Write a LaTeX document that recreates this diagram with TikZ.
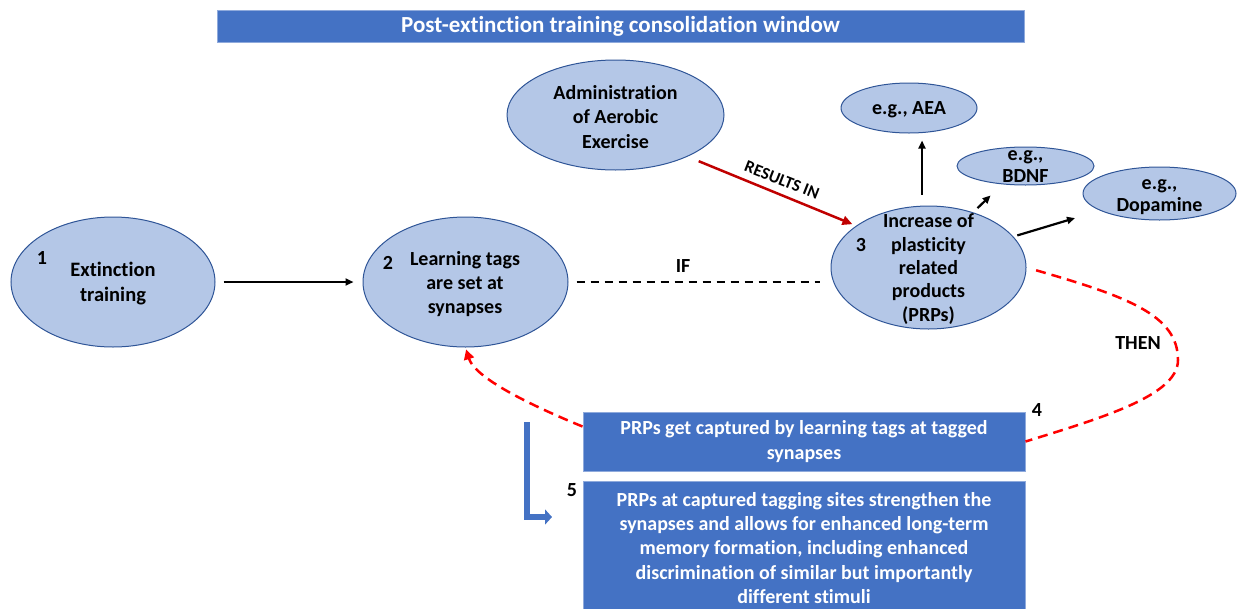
\documentclass[tikz,border=0pt]{standalone}
\usepackage{fontspec}
\setmainfont{Carlito}[Ligatures=NoCommon]
\usetikzlibrary{shapes.geometric,arrows.meta,calc}
\definecolor{ellfill}{HTML}{B4C7E7}
\definecolor{elldraw}{HTML}{2F5597}
\definecolor{boxfill}{HTML}{4472C4}
\definecolor{boxdraw}{HTML}{8FAADC}
\definecolor{dred}{HTML}{C00000}
\definecolor{bred}{HTML}{FF0000}
\tikzset{
  ell/.style={ellipse, draw=elldraw, fill=ellfill, line width=1pt, inner sep=0pt},
  etext/.style={align=center, font=\fontsize{20}{24}\selectfont\bfseries, inner sep=0pt},
  num/.style={font=\fontsize{20}{24}\selectfont\bfseries, inner sep=0pt},
  bluebox/.style={rectangle, draw=boxdraw, fill=boxfill, line width=1pt, text=white, align=center, font=\fontsize{20}{24.3}\selectfont\bfseries, inner sep=0pt},
  blkarrow/.style={line width=2.2pt, -{Triangle[length=8pt,width=7pt]}},
  reddash/.style={bred, line width=2.5pt, dash pattern=on 10pt off 6pt},
}
\begin{document}
\begin{tikzpicture}[x=1pt,y=-1pt]
\clip (0,0) rectangle (1242,608);
\useasboundingbox (0,0) rectangle (1242,608);

% title
\node[bluebox, minimum width=807pt, minimum height=32pt, font=\fontsize{23}{26}\selectfont\bfseries] (title) at (620.5,26) {Post-extinction training consolidation window};

% ellipses
\node[ell, minimum width=204pt, minimum height=130pt] (e1) at (113,282) {};
\node[etext, font=\fontsize{20.5}{25}\selectfont\bfseries] (t1) at (113,284) {Extinction\\training};
\node[num] (n1) at (42,258) {1};

\node[ell, minimum width=205pt, minimum height=130pt] (e2) at (465.5,282) {};
\node[etext] (t2) at (465,284) {Learning tags\\are set at\\synapses};
\node[num] (n2) at (388,263) {2};

\node[ell, minimum width=217pt, minimum height=110pt] (ea) at (615.5,115) {};
\node[etext, font=\fontsize{20}{24.5}\selectfont\bfseries] (ta) at (615.5,117) {Administration\\of Aerobic\\Exercise};

\node[ell, minimum width=195pt, minimum height=123pt] (e3) at (928.5,267.5) {};
\node[etext, font=\fontsize{20}{23.3}\selectfont\bfseries] (t3) at (928.5,269) {Increase of\\plasticity\\related\\products\\(PRPs)};
\node[num] (n3) at (861,245) {3};

\node[ell, minimum width=136pt, minimum height=50pt] (aea) at (909,108) {};
\node[etext] (taea) at (909,110) {e.g., AEA};

\node[ell, minimum width=137pt, minimum height=38pt] (bdnf) at (1025.5,166) {};
\node[etext, font=\fontsize{20}{22}\selectfont\bfseries] (tbdnf) at (1025.5,167) {e.g.,\\BDNF};

\node[ell, minimum width=153pt, minimum height=53pt] (dop) at (1159.5,193.5) {};
\node[etext, font=\fontsize{20}{22}\selectfont\bfseries] (tdop) at (1159.5,197) {e.g.,\\Dopamine};

% boxes
\node[bluebox, minimum width=442pt, minimum height=59pt] (b4) at (804,441.5) {PRPs get captured by learning tags at tagged\\synapses};
\node[num] (n4) at (1037,410) {4};

\node[bluebox, minimum width=442pt, minimum height=134pt] (b5) at (804,548) {PRPs at captured tagging sites strengthen the\\synapses and allows for enhanced long-term\\memory formation, including enhanced\\discrimination of similar but importantly\\different stimuli};
\node[num] (n5) at (572,490) {5};

% connectors
\draw[blkarrow, shorten <=8pt, shorten >=9pt] (e1.east) -- (e2.west);
\draw[line width=2pt, dash pattern=on 8pt off 6pt, shorten <=8pt, shorten >=11pt] (e2.east) -- (e2.east -| e3.west);
\node[num] (lif) at (683,266) {IF};

\draw[dred, line width=2.5pt, -{Triangle[length=10pt,width=9pt]}, shorten <=12pt, shorten >=4pt] (ea.-30) -- (e3.150);
\node[rotate=-21.5, font=\fontsize{17}{20}\selectfont\bfseries, inner sep=0pt] (lres) at (782,180) {RESULTS IN};

\draw[blkarrow, shorten <=11pt, shorten >=7pt] ([xshift=-6.5pt]e3.north) -- ([xshift=-6.5pt]e3.north |- aea.south);
\draw[blkarrow, shorten <=6pt, shorten >=16pt] (e3.51) -- (bdnf.218);
\draw[blkarrow, shorten <=4pt, shorten >=26pt] (e3.20) -- (dop.196);

\draw[reddash, shorten <=10pt] (e3.east) .. controls (1127,296.5) and (1178,315) .. (1178,360)
   .. controls (1178,395) and (1105,417) .. (b4.east);
\node[num] (lthen) at (1138,343) {THEN};

\draw[reddash, -{Triangle[length=10pt,width=10pt]}, shorten >=2pt] ([yshift=15pt]b4.west) .. controls (530,405) and (475,378) .. (e2.south);

% blue bent arrow
\coordinate (bstart) at (527,422);
\coordinate (bend) at (552,517);
\draw[boxfill, line width=6pt, -{Triangle[length=7pt,width=15pt]}] (bstart) |- (bend);
\end{tikzpicture}
\end{document}
